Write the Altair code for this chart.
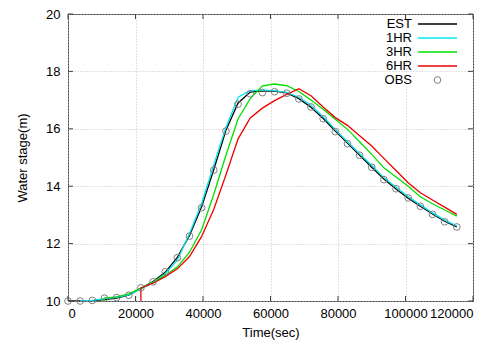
import altair as alt
import pandas as pd

# ---- data ----
T_OBS = [0, 3600, 7200, 10800, 14400, 18000, 21600, 25200, 28800, 32400, 36000,
         39600, 43200, 46800, 50400, 54000, 57600, 61200, 64800, 68400, 72000,
         75600, 79200, 82800, 86400, 90000, 93600, 97200, 100800, 104400, 108000,
         111600, 115200]
OBS = [10.00, 10.00, 10.02, 10.10, 10.12, 10.20, 10.46, 10.67, 11.02, 11.51, 12.26,
       13.25, 14.56, 15.92, 16.86, 17.22, 17.26, 17.29, 17.24, 17.04, 16.76,
       16.35, 15.90, 15.48, 15.08, 14.66, 14.23, 13.91, 13.59, 13.30, 13.02,
       12.76, 12.58]

T_EST = T_OBS
EST = [10.00, 10.00, 10.01, 10.05, 10.10, 10.20, 10.44, 10.68, 11.00, 11.52, 12.28,
       13.28, 14.58, 15.95, 16.90, 17.28, 17.32, 17.31, 17.25, 17.05, 16.75,
       16.36, 15.92, 15.50, 15.08, 14.66, 14.25, 13.90, 13.58, 13.30, 13.03,
       12.78, 12.58]

T_1HR = T_OBS[1:]
HR1 = [10.00, 10.02, 10.08, 10.13, 10.21, 10.42, 10.65, 10.95, 11.42, 12.35,
       13.40, 14.75, 16.05, 17.10, 17.33, 17.35, 17.33, 17.27, 17.10, 16.82,
       16.42, 15.98, 15.55, 15.13, 14.72, 14.30, 13.96, 13.64, 13.35, 13.07,
       12.82, 12.62]

T_3HR = [10800] + T_OBS[3:]
HR3 = [10.00, 10.10, 10.14, 10.25, 10.45, 10.65, 10.90, 11.18, 11.70, 12.48,
       13.72, 15.08, 16.35, 17.05, 17.50, 17.56, 17.50, 17.30, 17.00, 16.68,
       16.33, 15.98, 15.55, 15.11, 14.64, 14.32, 14.00, 13.63, 13.39, 13.17,
       12.96]

T_6HR = [21600] + T_OBS[6:]
HR6 = [10.00, 10.45, 10.62, 10.85, 11.12, 11.55, 12.25, 13.20, 14.40, 15.65,
       16.38, 16.72, 16.98, 17.20, 17.40, 17.15, 16.76, 16.39, 16.12, 15.76,
       15.40, 14.97, 14.55, 14.12, 13.77, 13.52, 13.27, 13.02]

SERIES = ["EST", "1HR", "3HR", "6HR"]
COLORS = ["#000000", "#00e8f0", "#00e000", "#ee0000"]
LEGEND_LABELS = ["EST", "1HR", "3HR", "6HR", "OBS"]
X_TICKS = [0, 20000, 40000, 60000, 80000, 100000, 120000]
Y_TICKS = [10, 12, 14, 16, 18, 20]

W, H = 405, 287
FONT = "Liberation Sans"

xs = alt.Scale(domain=[0, 120000], nice=False)
ys = alt.Scale(domain=[10, 20], nice=False)

series_data = [(T_EST, EST), (T_1HR, HR1), (T_3HR, HR3), (T_6HR, HR6)]

layers = []
# axes carrier (grid + labels)
axis_df = pd.DataFrame({"t": [0, 120000], "v": [10, 20]})
layers.append(
    alt.Chart(axis_df).mark_point(opacity=0).encode(
        x=alt.X("t:Q", scale=xs, title="Time(sec)",
                axis=alt.Axis(values=X_TICKS, format="d", ticks=False, domain=False,
                              grid=True, labelPadding=6, titlePadding=6)),
        y=alt.Y("v:Q", scale=ys, title="Water stage(m)",
                axis=alt.Axis(values=Y_TICKS, format="d", ticks=False, domain=False,
                              grid=True, labelPadding=8, titlePadding=16)),
    )
)

for name, color, (ts, vs) in zip(SERIES, COLORS, series_data):
    df = pd.DataFrame({"t": ts, "v": vs, "k": list(range(len(ts)))})
    layers.append(
        alt.Chart(df).mark_line(color=color, strokeWidth=1.3, clip=True).encode(
            x=alt.X("t:Q", scale=xs), y=alt.Y("v:Q", scale=ys), order="k:Q"
        )
    )

obs_df = pd.DataFrame({"t": T_OBS, "v": OBS})
layers.append(
    alt.Chart(obs_df).mark_point(shape="circle", filled=False, size=45,
                                 color="#808080", strokeWidth=1, opacity=1).encode(
        x=alt.X("t:Q", scale=xs), y=alt.Y("v:Q", scale=ys)
    )
)

# inward ticks (gnuplot style, mirrored)
xt = pd.DataFrame({"t": X_TICKS})
yt = pd.DataFrame({"v": Y_TICKS})
tick_color = "#404040"
layers.append(alt.Chart(xt).mark_rule(color=tick_color).encode(
    x=alt.X("t:Q", scale=xs), y=alt.value(H - 5), y2=alt.value(H)))
layers.append(alt.Chart(xt).mark_rule(color=tick_color).encode(
    x=alt.X("t:Q", scale=xs), y=alt.value(0), y2=alt.value(5)))
layers.append(alt.Chart(yt).mark_rule(color=tick_color).encode(
    y=alt.Y("v:Q", scale=ys), x=alt.value(0), x2=alt.value(5)))
layers.append(alt.Chart(yt).mark_rule(color=tick_color).encode(
    y=alt.Y("v:Q", scale=ys), x=alt.value(W - 5), x2=alt.value(W)))

# legend (top-right, inside)
leg_df = pd.DataFrame({"label": LEGEND_LABELS, "i": list(range(len(LEGEND_LABELS))),
                       "c": COLORS + ["#808080"]})
leg_base = alt.Chart(leg_df).transform_calculate(ly="10 + 14 * datum.i")
layers.append(leg_base.mark_text(align="right", baseline="middle", font=FONT,
                                 fontSize=13, color="#000000").encode(
    x=alt.value(344), y=alt.Y("ly:Q", scale=None), text="label:N"))
layers.append(leg_base.transform_filter("datum.i < 4").mark_rule(strokeWidth=1.5).encode(
    x=alt.value(350), x2=alt.value(389), y=alt.Y("ly:Q", scale=None),
    color=alt.Color("c:N", scale=None)))
layers.append(leg_base.transform_filter("datum.i == 4").mark_point(
    shape="circle", filled=False, size=45, strokeWidth=1, opacity=1).encode(
    x=alt.value(369.5), y=alt.Y("ly:Q", scale=None),
    color=alt.Color("c:N", scale=None)))

chart = alt.layer(*layers).properties(
    width=W, height=H,
    autosize=alt.AutoSizeParams(type="none"),
    padding={"left": 60, "top": 6, "right": 22, "bottom": 41},
    background="white",
).configure_view(stroke="#404040", strokeWidth=1).configure_axis(
    labelFont=FONT, titleFont=FONT, labelFontSize=13, titleFontSize=13,
    titleFontWeight="normal", labelColor="#000000", titleColor="#000000",
    gridColor="#c4c4c4", gridDash=[1, 2], gridWidth=1,
)

chart.save("out.html", embed_options={"renderer": "svg", "actions": False})
